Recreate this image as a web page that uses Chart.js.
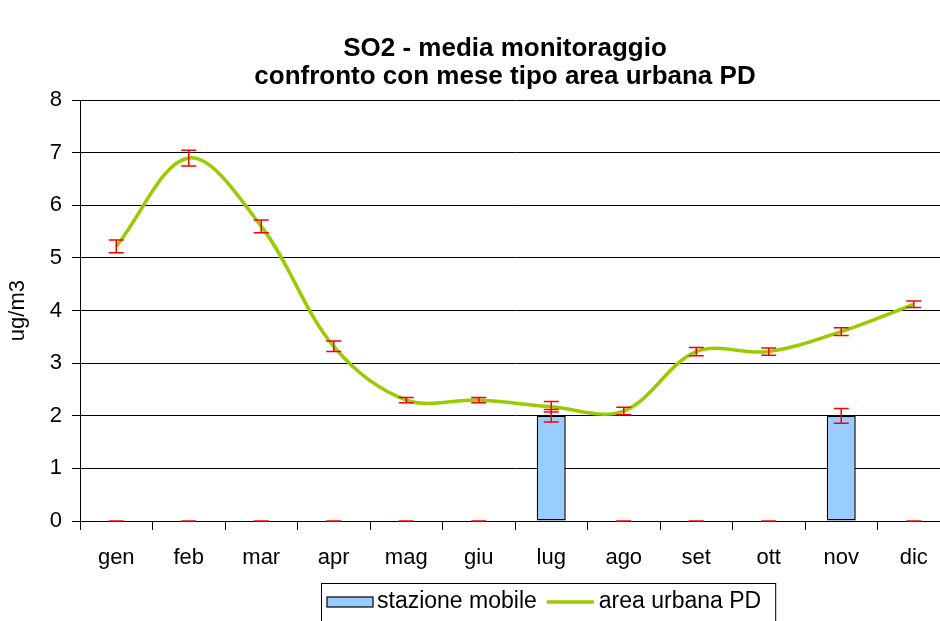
<!DOCTYPE html>
<html>
<head>
<meta charset="utf-8">
<script src="https://cdn.jsdelivr.net/npm/chart.js@4"></script>
<style>
  html, body { margin: 0; padding: 0; background: #fff; overflow: hidden; }
  #wrap { width: 950px; height: 621px; }
</style>
</head>
<body>
<div id="wrap"><canvas id="so2Chart" width="950" height="621"></canvas></div>
<script>
// month labels
const months = ['gen', 'feb', 'mar', 'apr', 'mag', 'giu', 'lug', 'ago', 'set', 'ott', 'nov', 'dic'];

// stazione mobile (bars) and its error
const mobileValues = [0, 0, 0, 0, 0, 0, 2.0, 0, 0, 0, 2.0, 0];
const mobileErrors = [0, 0, 0, 0, 0, 0, 0.12, 0, 0, 0, 0.14, 0];

// area urbana PD (line) and its error
const urbanValues = [5.22, 6.9, 5.6, 3.32, 2.3, 2.3, 2.17, 2.09, 3.22, 3.22, 3.6, 4.12];
const urbanErrors = [0.12, 0.15, 0.12, 0.1, 0.05, 0.05, 0.1, 0.07, 0.08, 0.07, 0.075, 0.06];

const yTicks = [0, 1, 2, 3, 4, 5, 6, 7, 8];

const FONT = 'Arial, "Liberation Sans", sans-serif';

// red error bars on top of everything
const errorBarPlugin = {
    id: 'errorBars',
    afterDatasetsDraw(chart) {
        const ctx = chart.ctx;
        const y = chart.scales.y;
        ctx.save();
        ctx.strokeStyle = '#FF0000';
        ctx.lineWidth = 1.5;
        chart.data.datasets.forEach(function(ds, i) {
            const meta = chart.getDatasetMeta(i);
            meta.data.forEach(function(el, j) {
                const v = ds.data[j];
                const e = ds.errors[j];
                const x = el.x;
                const top = y.getPixelForValue(v + e);
                const bot = y.getPixelForValue(v - e);
                ctx.beginPath();
                ctx.moveTo(x, top);
                ctx.lineTo(x, bot);
                ctx.moveTo(x - 7.5, top);
                ctx.lineTo(x + 7.5, top);
                ctx.moveTo(x - 7.5, bot);
                ctx.lineTo(x + 7.5, bot);
                ctx.stroke();
            });
        });
        ctx.restore();
    }
};

// the original title sits a bit left of the plot centre
const titleShiftPlugin = {
    id: 'titleShift',
    afterLayout(chart) {
        if (chart.titleBlock) {
            chart.titleBlock.left -= 20;
        }
    }
};

// boxed legend under the axis, like the original
const boxLegendPlugin = {
    id: 'boxLegend',
    afterDraw(chart) {
        const ctx = chart.ctx;
        const bar = chart.data.datasets[0];
        const line = chart.data.datasets[1];
        ctx.save();
        ctx.font = '23px ' + FONT;
        ctx.textBaseline = 'middle';
        const cy = 602;
        let x = 327;
        // bar swatch
        ctx.fillStyle = bar.backgroundColor;
        ctx.fillRect(x, cy - 5, 46, 10);
        ctx.strokeStyle = '#000';
        ctx.lineWidth = 1.2;
        ctx.strokeRect(x, cy - 5, 46, 10);
        x += 50;
        ctx.fillStyle = '#000';
        ctx.fillText(bar.label, x, cy);
        x += ctx.measureText(bar.label).width + 10;
        // line swatch
        ctx.strokeStyle = line.borderColor;
        ctx.lineWidth = 3.5;
        ctx.beginPath();
        ctx.moveTo(x, cy);
        ctx.lineTo(x + 47, cy);
        ctx.stroke();
        x += 52;
        ctx.fillText(line.label, x, cy);
        x += ctx.measureText(line.label).width + 14;
        ctx.strokeStyle = '#000';
        ctx.lineWidth = 1;
        ctx.strokeRect(321.5, 583.5, x - 321, 40);
        ctx.restore();
    }
};

const ctx = document.getElementById('so2Chart').getContext('2d');
new Chart(ctx, {
    data: {
        labels: months,
        datasets: [{
            type: 'bar',
            label: 'stazione mobile',
            data: mobileValues,
            errors: mobileErrors,
            backgroundColor: '#99CCFF',
            borderColor: '#000000',
            borderWidth: 1.5,
            borderSkipped: false,
            barPercentage: 0.4,
            categoryPercentage: 1.0,
            order: 2
        }, {
            type: 'line',
            label: 'area urbana PD',
            data: urbanValues,
            errors: urbanErrors,
            borderColor: '#99CC00',
            backgroundColor: '#99CC00',
            borderWidth: 3.5,
            pointRadius: 0,
            tension: 0.35,
            fill: false,
            order: 1
        }]
    },
    options: {
        responsive: false,
        animation: false,
        layout: { padding: 0 },
        plugins: {
            legend: { display: false },
            tooltip: { enabled: false },
            title: {
                display: true,
                fullSize: false,
                text: ['SO2 - media monitoraggio', 'confronto con mese tipo area urbana PD'],
                color: '#000',
                font: { family: FONT, size: 26, weight: 'bold', lineHeight: 1.08 },
                padding: { top: 35, bottom: 9 }
            }
        },
        scales: {
            x: {
                offset: true,
                grid: {
                    offset: true,
                    drawOnChartArea: false,
                    drawTicks: true,
                    tickLength: 9,
                    color: '#000'
                },
                border: { color: '#000', width: 1 },
                ticks: {
                    color: '#000',
                    font: { family: FONT, size: 22 },
                    padding: 15,
                    maxRotation: 0
                },
                afterFit: function(scale) { scale.height = 100; }
            },
            y: {
                min: 0,
                max: 8,
                afterBuildTicks: function(scale) {
                    scale.ticks = yTicks.map(function(v) { return { value: v }; });
                },
                grid: {
                    color: '#000',
                    lineWidth: 1,
                    tickLength: 8
                },
                border: { color: '#000', width: 1 },
                ticks: {
                    color: '#000',
                    font: { family: FONT, size: 22 },
                    padding: 10
                },
                title: {
                    display: true,
                    text: 'ug/m3',
                    color: '#000',
                    font: { family: FONT, size: 22 },
                    padding: { top: 5, bottom: 0 }
                },
                afterFit: function(scale) { scale.width = 80; }
            }
        }
    },
    plugins: [errorBarPlugin, titleShiftPlugin, boxLegendPlugin]
});
</script>
</body>
</html>
